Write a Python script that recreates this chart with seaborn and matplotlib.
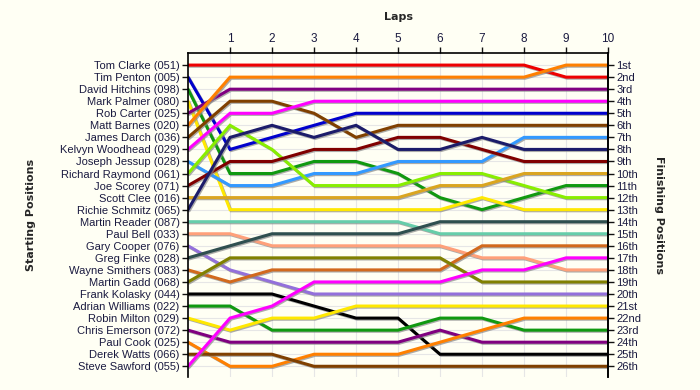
import matplotlib
matplotlib.use("Agg")
import matplotlib.pyplot as plt
import matplotlib.patheffects as pe
import seaborn as sns
import pandas as pd

drivers = ["Tom Clarke (051)", "Tim Penton (005)", "David Hitchins (098)", "Mark Palmer (080)",
           "Rob Carter (025)", "Matt Barnes (020)", "James Darch (036)", "Kelvyn Woodhead (029)",
           "Joseph Jessup (028)", "Richard Raymond (061)", "Joe Scorey (071)", "Scott Clee (016)",
           "Richie Schmitz (065)", "Martin Reader (087)", "Paul Bell (033)", "Gary Cooper (076)",
           "Greg Finke (028)", "Wayne Smithers (083)", "Martin Gadd (068)", "Frank Kolasky (044)",
           "Adrian Williams (022)", "Robin Milton (029)", "Chris Emerson (072)", "Paul Cook (025)",
           "Derek Watts (066)", "Steve Sawford (055)"]

laps = [0, 1, 2, 3, 4, 5, 6, 7, 8, 9, 10]

positions = [
    [1, 1, 1, 1, 1, 1, 1, 1, 1, 2, 2],
    [2, 8, 7, 6, 5, 5, 5, 5, 5, 5, 5],
    [3, 10, 10, 9, 9, 10, 12, 13, 12, 11, 11],
    [4, 13, 13, 13, 13, 13, 13, 12, 13, 13, 13],
    [5, 3, 3, 3, 3, 3, 3, 3, 3, 3, 3],
    [6, 2, 2, 2, 2, 2, 2, 2, 2, 1, 1],
    [7, 4, 4, 5, 7, 6, 6, 6, 6, 6, 6],
    [8, 5, 5, 4, 4, 4, 4, 4, 4, 4, 4],
    [9, 11, 11, 10, 10, 9, 9, 9, 7, 7, 7],
    [10, 6, 8, 11, 11, 11, 10, 10, 11, 12, 12],
    [11, 9, 9, 8, 8, 7, 7, 8, 9, 9, 9],
    [12, 12, 12, 12, 12, 12, 11, 11, 10, 10, 10],
    [13, 7, 6, 7, 6, 8, 8, 7, 8, 8, 8],
    [14, 14, 14, 14, 14, 14, 15, 15, 15, 15, 15],
    [15, 15, 16, 16, 16, 16, 16, 17, 17, 18, 18],
    [16, 18, 19, 20, 20, 20, 20, 20, 20, 20, 20],
    [17, 16, 15, 15, 15, 15, 14, 14, 14, 14, 14],
    [18, 19, 18, 18, 18, 18, 18, 16, 16, 16, 16],
    [19, 17, 17, 17, 17, 17, 17, 19, 19, 19, 19],
    [20, 20, 20, 21, 22, 22, 25, 25, 25, 25, 25],
    [21, 21, 23, 23, 23, 23, 22, 22, 23, 23, 23],
    [22, 23, 22, 22, 21, 21, 21, 21, 21, 21, 21],
    [23, 24, 24, 24, 24, 24, 23, 24, 24, 24, 24],
    [24, 26, 26, 25, 25, 25, 24, 23, 22, 22, 22],
    [25, 25, 25, 26, 26, 26, 26, 26, 26, 26, 26],
    [26, 22, 21, 19, 19, 19, 19, 18, 18, 17, 17],
]

colors = ["#ee0000", "#0000cc", "#109910", "#ffe800", "#800080", "#ff8000", "#804000",
          "#ff00ff", "#3399ff", "#88ee00", "#800000", "#daa520", "#1c1c6a",
          "#66cdaa", "#ffa07a", "#9370db", "#2f4f4f", "#d2691e", "#808000", "#000000",
          "#109910", "#ffe800", "#800080", "#ff8000", "#804000", "#ff00ff"]

finish_labels = ["1st", "2nd", "3rd", "4th", "5th", "6th", "7th", "8th", "9th", "10th",
                 "11th", "12th", "13th", "14th", "15th", "16th", "17th", "18th", "19th",
                 "20th", "21st", "22nd", "23rd", "24th", "25th", "26th"]

rows = []
for d, pos in zip(drivers, positions):
    for lap, p in zip(laps, pos):
        rows.append({"driver": d, "lap": lap, "position": p})
df = pd.DataFrame(rows)

sns.set_theme(style="white")
plt.rcParams["font.family"] = ["Liberation Sans", "DejaVu Sans"]

bg = "#fffff4"
fig = plt.figure(figsize=(7, 3.9), dpi=100, facecolor=bg)
ax = fig.add_axes([0.2686, 0.033, 0.6, 0.831])
ax.set_facecolor(bg)

sns.lineplot(data=df, x="lap", y="position", hue="driver", hue_order=drivers,
             palette=colors, legend=False, linewidth=2.2, estimator=None, sort=False, ax=ax)
for ln in ax.get_lines():
    ln.set_path_effects([pe.SimpleLineShadow(offset=(0.8, -0.8), shadow_color="#888888", alpha=0.7),
                         pe.Normal()])
    ln.set_solid_joinstyle("miter")

ax.set_xlim(0, 10)
ax.set_ylim(26.9, 0)
ax.set_xticks(range(1, 11))
ax.xaxis.tick_top()
ax.xaxis.set_label_position("top")
ax.set_xlabel("Laps", fontsize=8, fontweight="bold", labelpad=9, family="DejaVu Sans")
ax.set_yticks(range(1, 27))
ax.set_yticklabels(drivers)
ax.set_ylabel("Starting Positions", fontsize=8, fontweight="bold", labelpad=17, family="DejaVu Sans")
ax.tick_params(axis="both", which="major", labelsize=8, length=4, width=1, colors="#111111",
               labelcolor="#1a1a40", direction="out", pad=2)
ax.tick_params(axis="x", top=True, bottom=False, labelsize=8.5)
ax.tick_params(axis="y", left=True)
ax.grid(True, color="#e6e6e6", linewidth=0.8)
ax.set_axisbelow(True)
for s in ["top", "left", "right"]:
    ax.spines[s].set_color("black")
    ax.spines[s].set_linewidth(1.2)
ax.spines["bottom"].set_visible(False)

ax2 = ax.twinx()
ax2.set_ylim(ax.get_ylim())
ax2.set_yticks(range(1, 27))
ax2.set_yticklabels(finish_labels)
ax2.tick_params(axis="y", labelsize=8, length=4, width=1, colors="#111111",
                labelcolor="#1a1a40", direction="out", pad=2)
ax2.set_ylabel("Finishing Positions", fontsize=8, fontweight="bold", rotation=270,
               labelpad=16, family="DejaVu Sans")
for s in ["top", "bottom", "left"]:
    ax2.spines[s].set_visible(False)
ax2.spines["right"].set_color("black")
ax2.spines["right"].set_linewidth(1.2)
ax2.grid(False)

fig.savefig("out.png", dpi=100, facecolor=bg)
